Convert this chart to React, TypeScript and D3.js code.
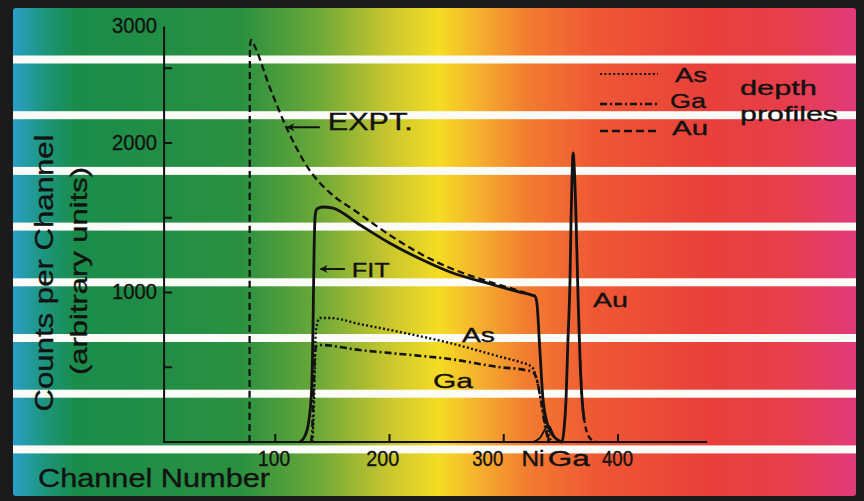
import React from 'react';
import * as d3 from 'd3';

const W = 864;
const H = 501;

// ---- data (channel, counts) ----
const exptChannel = [77.5, 77.8, 78.8, 80, 95.4, 110, 130, 148, 171.5, 200, 229, 253, 288, 314, 324.6, 327.5];
const exptCounts = [0, 2640, 2689, 2676, 2368, 2100, 1819, 1666, 1538, 1385, 1251, 1164, 1070, 1010, 983, 975];

const fitChannel = [121.6, 126, 129.5, 132, 133, 134, 135, 136.5, 141.7, 150.5, 171.5, 200, 229, 253, 288, 314, 324.6, 327.2, 329, 331.6, 334.2, 337.7, 342, 349, 351, 352.7, 354.5, 356.2, 358, 358.9, 359.8, 360.7, 361.6, 363.3, 364.2, 365.1, 366.8, 368.6, 370.4];
const fitCounts = [0, 40, 147, 381, 749, 1284, 1518, 1559, 1572, 1565, 1465, 1331, 1217, 1137, 1057, 1003, 983, 977, 930, 615, 301, 134, 54, 7, 0, 80, 281, 682, 1084, 1485, 1786, 1933, 1853, 1485, 1217, 950, 548, 281, 147];

const asChannel = [132.5, 133.5, 134.5, 135.6, 139, 148, 174, 209, 253, 297, 314, 324.6, 329, 333, 338, 341.5];
const asCounts = [0, 150, 450, 749, 829, 829, 789, 736, 662, 570, 535, 502, 415, 261, 80, 0];

const gaChannel = [131.5, 132.5, 133.5, 134.5, 136, 139, 174, 209, 253, 297, 318.5, 325.5, 329, 332.5, 336, 339.5];
const gaCounts = [0, 100, 350, 560, 642, 649, 615, 589, 555, 500, 482, 468, 415, 281, 114, 0];

const auChannel = [366.8, 368.6, 371.1, 373.7, 377.2, 381.6];
const auCounts = [548, 281, 120, 47, 13, 0];

const niChannel = [325.6, 331.7, 337, 339.6, 343.1, 347.5];
const niCounts = [0, 27, 94, 107, 54, 0];

// ---- axes ----
const xAxisExtent = [2.7, 478];
const yAxisExtent = [0, 2780];
const xTicks = [100, 200, 300, 339, 400];
const xTickLabels = ['100', '200', '300', 'Ni', 'Ga', '400'];
const xTickLabelAt = [99, 194, 286, 325.6, 357, 399.6];
const xTickLabelWidth = [32, 33, 31, 23, 42, 31];
const yTicks = [500, 1000, 1500, 2000, 2500];
const yTickLabels = [1000, 2000, 3000];

// ---- legend ----
const legendNames = ['As', 'Ga', 'Au'];

const stripeCount = 8;

export default function App() {
  const x = d3.scaleLinear().domain([0, 400]).range([161, 618]);
  const y = d3.scaleLinear().domain([0, 2000]).range([442, 143]);

  const line = d3
    .line<[number, number]>()
    .x((d) => x(d[0]))
    .y((d) => y(d[1]))
    .curve(d3.curveMonotoneX);

  const zip = (a: number[], b: number[]) => a.map((v, i) => [v, b[i]] as [number, number]);

  const axisX0 = x(xAxisExtent[0]);
  const axisX1 = x(xAxisExtent[1]);
  const axisY0 = y(yAxisExtent[0]);
  const axisY1 = y(yAxisExtent[1]);

  const font = "'Liberation Sans', Arial, Helvetica, sans-serif";
  const ink = '#121212';
  const textStroke = { stroke: ink, strokeWidth: 0.35 };

  const gradStops = [
    [0, '#2a9fc6'],
    [0.04, '#1c9478'],
    [0.075, '#1a8c4a'],
    [0.27, '#2a9040'],
    [0.36, '#6aa838'],
    [0.445, '#c8c62e'],
    [0.505, '#f5dc24'],
    [0.555, '#f5ae2e'],
    [0.61, '#f27c30'],
    [0.69, '#ef5834'],
    [0.82, '#e9403a'],
    [0.92, '#e73e4c'],
    [1, '#e13a7a'],
  ];

  const legendStyles = [
    { dash: '2 2.4', width: 2.2 },
    { dash: '7 3 2 3', width: 2.4 },
    { dash: '8 4', width: 2.4 },
  ];

  const stripes = d3.range(stripeCount).map((i) => 59.5 + i * 55.7);

  return (
    <svg
      width={W}
      height={H}
      viewBox={`0 0 ${W} ${H}`}
      style={{ position: 'absolute', left: 0, top: 0, display: 'block' }}
    >
      <defs>
        <linearGradient id="bg" gradientUnits="userSpaceOnUse" x1={13} y1={0} x2={856} y2={0}>
          {gradStops.map(([o, c], i) => (
            <stop key={i} offset={o as number} stopColor={c as string} />
          ))}
        </linearGradient>
        <marker id="arrow" viewBox="0 0 10 10" refX={9} refY={5} markerWidth={11} markerHeight={8} orient="auto" markerUnits="userSpaceOnUse">
          <path d="M10,5 L0,0 L3,5 L0,10 Z" fill={ink} />
        </marker>
      </defs>

      {/* frame */}
      <rect x={0} y={0} width={W} height={H} fill="#1b1b1b" />
      <rect x={13} y={8} width={843} height={488} rx={3} fill="url(#bg)" />

      {/* white stripes */}
      {stripes.map((cy, i) => (
        <rect key={i} x={13} y={cy - 4} width={843} height={8} fill="#fbfbf8" />
      ))}

      {/* axes */}
      <g stroke={ink} strokeWidth={2} fill="none">
        <line x1={axisX0} y1={axisY0} x2={axisX0} y2={axisY1} />
        <line x1={axisX0 - 1} y1={axisY0} x2={axisX1} y2={axisY0} />
        {yTicks.map((t) => (
          <line key={t} x1={axisX0} x2={axisX0 + 8} y1={y(t)} y2={y(t)} />
        ))}
        {xTicks.map((t) => (
          <line key={t} x1={x(t)} x2={x(t)} y1={axisY0} y2={axisY0 - 8} />
        ))}
      </g>

      {/* y tick labels */}
      <g fontFamily={font} fontSize={22} fill={ink} {...textStroke}>
        {yTickLabels.map((t) => {
          const py = Math.max(y(t), axisY1);
          return (
            <text key={t} x={axisX0 - 7} y={py + 6.5} textAnchor="end" textLength={45} lengthAdjust="spacingAndGlyphs">
              {t}
            </text>
          );
        })}
      </g>

      {/* x tick labels */}
      <g fontFamily={font} fontSize={22} fill={ink} {...textStroke}>
        {xTickLabels.map((s, i) => (
          <text
            key={s}
            x={x(xTickLabelAt[i]) - xTickLabelWidth[i] / 2}
            y={466}
            textLength={xTickLabelWidth[i]}
            lengthAdjust="spacingAndGlyphs"
          >
            {s}
          </text>
        ))}
      </g>

      {/* axis titles */}
      <g fontFamily={font} fill={ink} {...textStroke}>
        <text
          transform="translate(53,273) rotate(-90)"
          textAnchor="middle"
          fontSize={26}
          textLength={277}
          lengthAdjust="spacingAndGlyphs"
        >
          Counts per Channel
        </text>
        <text
          transform="translate(87,271) rotate(-90)"
          textAnchor="middle"
          fontSize={24}
          textLength={208}
          lengthAdjust="spacingAndGlyphs"
        >
          (arbitrary units)
        </text>
        <text x={38} y={487} fontSize={26} textLength={232} lengthAdjust="spacingAndGlyphs">
          Channel Number
        </text>
      </g>

      {/* curves */}
      <g fill="none" stroke={ink} strokeLinejoin="round">
        <path d={line(zip(exptChannel, exptCounts)) || ''} strokeWidth={2.3} strokeDasharray="7 4" />
        <path d={line(zip(asChannel, asCounts)) || ''} strokeWidth={2.4} strokeDasharray="2 2.3" />
        <path d={line(zip(gaChannel, gaCounts)) || ''} strokeWidth={2.6} strokeDasharray="7 3 2 3" />
        <path d={line(zip(niChannel, niCounts)) || ''} strokeWidth={1.8} />
        <path d={line(zip(fitChannel, fitCounts)) || ''} strokeWidth={2.8} />
        <path d={line(zip(auChannel, auCounts)) || ''} strokeWidth={2.3} strokeDasharray="6 3.5" />
      </g>

      {/* annotations */}
      <g stroke={ink} strokeWidth={2}>
        <line x1={x(139)} y1={y(2105)} x2={x(110.5)} y2={y(2105)} markerEnd="url(#arrow)" />
        <line x1={x(161)} y1={y(1157)} x2={x(139.5)} y2={y(1157)} markerEnd="url(#arrow)" />
      </g>
      <g fontFamily={font} fontSize={23} fill={ink} {...textStroke}>
        <text x={x(146)} y={130} textLength={85} lengthAdjust="spacingAndGlyphs">EXPT.</text>
        <text x={x(167)} y={277} fontSize={21} textLength={38} lengthAdjust="spacingAndGlyphs">FIT</text>
        <text x={462} y={342} fontSize={21} textLength={33} lengthAdjust="spacingAndGlyphs">As</text>
        <text x={433} y={388} fontSize={21} textLength={40} lengthAdjust="spacingAndGlyphs">Ga</text>
        <text x={593} y={307} fontSize={21} textLength={35} lengthAdjust="spacingAndGlyphs">Au</text>
      </g>

      {/* legend */}
      <g>
        {legendNames.map((n, i) => {
          const ly = [74, 104, 131][i];
          const ty = [82, 108, 135][i];
          const tx = [675, 670, 672][i];
          return (
            <g key={n}>
              <line
                x1={600}
                x2={658}
                y1={ly}
                y2={ly}
                stroke={ink}
                strokeWidth={legendStyles[i].width}
                strokeDasharray={legendStyles[i].dash}
              />
              <text x={tx} y={ty} fontFamily={font} fontSize={21} fill={ink} {...textStroke} textLength={n === 'As' ? 32 : 36} lengthAdjust="spacingAndGlyphs">
                {n}
              </text>
            </g>
          );
        })}
        <text x={740} y={95} fontFamily={font} fontSize={21} fill={ink} {...textStroke} textLength={77} lengthAdjust="spacingAndGlyphs">depth</text>
        <text x={740} y={121} fontFamily={font} fontSize={21} fill={ink} {...textStroke} textLength={98} lengthAdjust="spacingAndGlyphs">profiles</text>
      </g>
    </svg>
  );
}
